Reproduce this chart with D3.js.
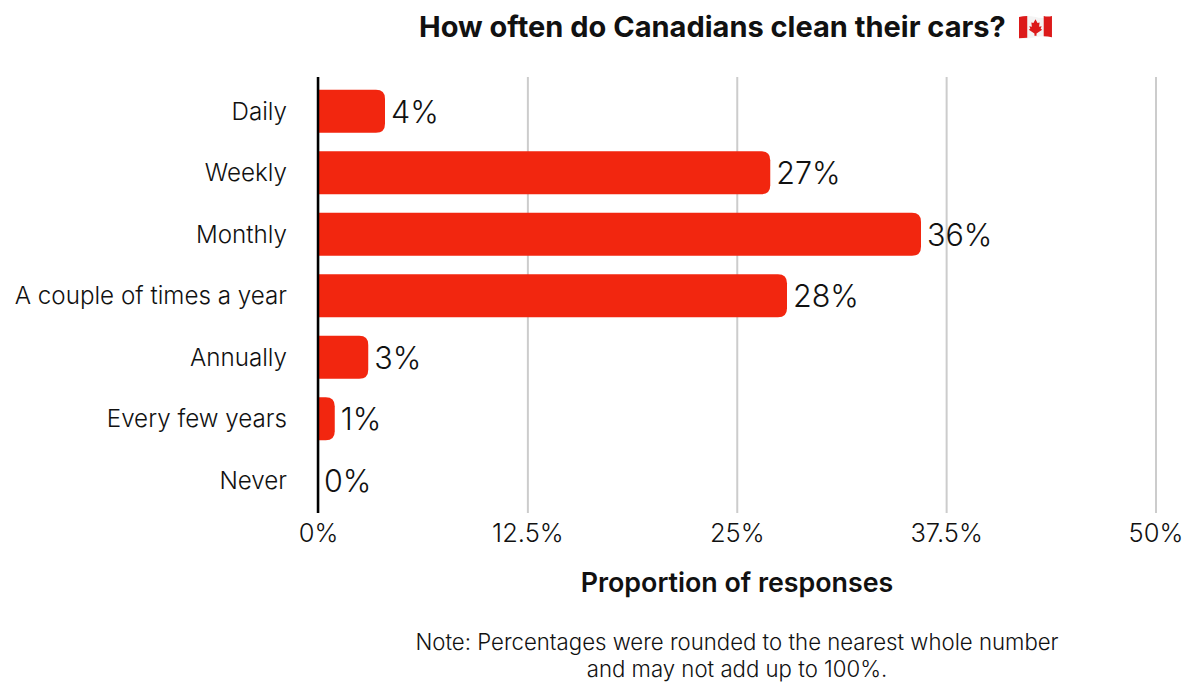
<!DOCTYPE html>
<html>
<head>
<meta charset="utf-8">
<script src="https://cdn.jsdelivr.net/npm/d3@7"></script>
<style>
  body { margin: 0; background: #fff; }
  text { font-family: "Inter", sans-serif; fill: #111; }
  .domain { display: none; }
</style>
</head>
<body>
<svg width="1200" height="695"></svg>
<script>
var categories = ["Daily", "Weekly", "Monthly", "A couple of times a year", "Annually", "Every few years", "Never"];
var values = [4, 27, 36, 28, 3, 1, 0];
var xTicks = [0, 12.5, 25, 37.5, 50];

var svg = d3.select("svg");

var xScale = d3.scaleLinear().domain([0, 50]).range([318, 1155.5]);
var yScale = d3.scaleBand().domain(categories).range([80.5, 511]).paddingInner(0.3).paddingOuter(0.15);

// gridlines + x labels
var xAxis = d3.axisBottom(xScale)
  .tickValues(xTicks)
  .tickFormat(function(d){ return d + "%"; })
  .tickSize(-436)
  .tickPadding(11);
var xG = svg.append("g")
  .attr("transform", "translate(0,513)")
  .call(xAxis);
xG.selectAll("line").attr("stroke", "#cccccc").attr("stroke-width", 2);
xG.selectAll("text").attr("font-size", 25.5).attr("font-weight", 300).attr("fill", "#111");

// bars, square at the axis end and rounded at the value end
var r = 9;
svg.append("g").selectAll("path")
  .data(values)
  .enter().append("path")
  .attr("fill", "#f2260f")
  .attr("d", function(d, i){
    var x0 = xScale(0), x1 = xScale(d), y0 = yScale(categories[i]), h = yScale.bandwidth();
    if (d == 0) return "";
    var rr = Math.min(r, x1 - x0);
    return "M" + x0 + "," + y0 + "H" + (x1 - rr) + "Q" + x1 + "," + y0 + " " + x1 + "," + (y0 + rr)
      + "V" + (y0 + h - rr) + "Q" + x1 + "," + (y0 + h) + " " + (x1 - rr) + "," + (y0 + h) + "H" + x0 + "Z";
  });

// value labels
svg.append("g").selectAll("text")
  .data(values)
  .enter().append("text")
  .attr("x", function(d){ return xScale(d) + 6; })
  .attr("y", function(d, i){ return yScale(categories[i]) + yScale.bandwidth() / 2; })
  .attr("dominant-baseline", "central")
  .attr("font-size", 30.5)
  .attr("font-weight", 300)
  .text(function(d){ return d + "%"; });

// y axis
var yAxis = d3.axisLeft(yScale).tickSize(0).tickPadding(31);
var yG = svg.append("g").attr("transform", "translate(318,0.5)").call(yAxis);
yG.selectAll("text").attr("font-size", 24.2).attr("font-weight", 300).attr("fill", "#111");

svg.append("line")
  .attr("x1", 318).attr("x2", 318).attr("y1", 77).attr("y2", 513)
  .attr("stroke", "#000").attr("stroke-width", 2.5);

// titles
svg.append("text").attr("x", 419).attr("y", 37)
  .attr("font-size", 29).attr("font-weight", 700)
  .text("How often do Canadians clean their cars?");
svg.append("text").attr("x", 737).attr("y", 592).attr("text-anchor", "middle")
  .attr("font-size", 26.8).attr("font-weight", 600)
  .text("Proportion of responses");

var noteLines = ["Note: Percentages were rounded to the nearest whole number", "and may not add up to 100%."];
svg.append("g").selectAll("text")
  .data(noteLines)
  .enter().append("text")
  .attr("x", 737)
  .attr("y", function(d, i){ return 650 + i * 27; })
  .attr("text-anchor", "middle")
  .attr("font-size", 22.2)
  .attr("font-weight", 300)
  .text(function(d){ return d; });

// flag
var flag = svg.append("g").attr("transform", "translate(1019,15) scale(1.03,1.06)");
flag.append("path").attr("d", "M0,2Q8,0 16,2T32,1V21Q24,19 16,21T0,22Z").attr("fill", "#f4f4f4");
flag.append("path").attr("d", "M0,2Q4,1 8,1V21.5Q4,21.5 0,22Z").attr("fill", "#dc1a1a");
flag.append("path").attr("d", "M24,1Q28,2 32,1V21Q28,20 24,20Z").attr("fill", "#dc1a1a");
flag.append("path").attr("d", "M16,4L18,7.5L20,7L19.5,11L22,10.5L21,13L22.5,14L17,17.5V19.5H15V17.5L9.5,14L11,13L10,10.5L12.5,11L12,7L14,7.5Z").attr("fill", "#dc1a1a");
</script>
</body>
</html>
